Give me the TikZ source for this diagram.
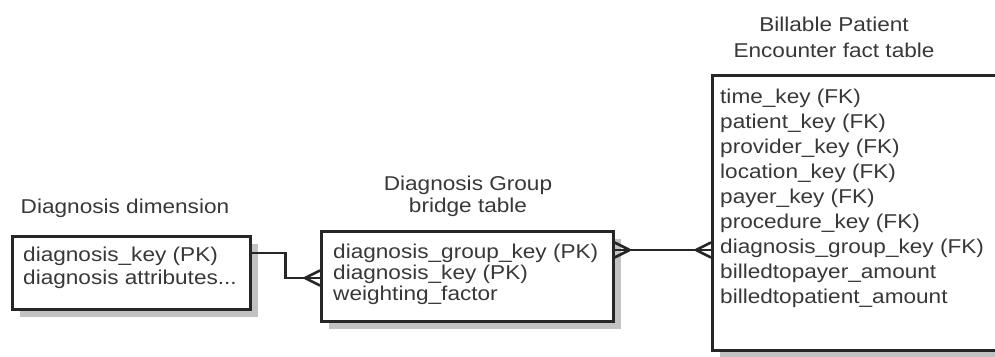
\documentclass[tikz,border=0pt]{standalone}
\usepackage{fontspec}
\setmainfont{Liberation Sans}[FakeStretch=1.13]
\usetikzlibrary{calc,shadows}
\definecolor{ink}{HTML}{262626}
\definecolor{txt}{HTML}{383838}
\definecolor{shade}{HTML}{C2C2C2}
\begin{document}
\begin{tikzpicture}[x=1pt,y=-1pt,
  tablebox/.style={draw=ink, line width=2.6pt, fill=white, inner sep=0pt, anchor=north west,
    drop shadow={shadow xshift=8pt, shadow yshift=-8pt, fill=shade, opacity=1}},
  % multi-line field lists sit on the baseline of their last line
  fields/.style={anchor=base west, inner sep=0pt, align=left, text=txt,
    font=\fontsize{20}{#1}\selectfont},
  caption/.style={align=center, inner sep=0pt, text=txt, font=\fontsize{20}{#1}\selectfont},
  conn/.style={draw=ink, line width=2.6pt},
  pics/crowfoot/.style={code={\draw[conn] (0,0) -- (15,-7.5) (0,0) -- (15,7.5);}}
]
\clip (0,0) rectangle (995,356);
\fill[white] (0,0) rectangle (995,356);

% dimension table
\node[caption=26] (dimtitle) at (125,208) {Diagnosis dimension};
\node[tablebox, minimum width=238pt, minimum height=73pt] (dimbox) at (11,235) {};
\node[fields=23] (dimfields) at ($(dimbox.north west)+(12,49)$)
  {diagnosis\_key (PK)\\diagnosis attributes...};

% bridge table
\node[caption=22] (brtitle) at (468,196) {Diagnosis Group\\bridge table};
\node[tablebox, minimum width=292pt, minimum height=90pt] (brbox) at (320,230) {};
\node[fields=21] (brfields) at ($(brbox.north west)+(13,70)$)
  {diagnosis\_group\_key (PK)\\diagnosis\_key (PK)\\weighting\_factor};

% fact table
\node[caption=26] (facttitle) at (834,37) {Billable Patient\\Encounter fact table};
\node[tablebox, minimum width=300pt, minimum height=275pt] (factbox) at (711,74) {};
\node[fields=25] (factfields) at ($(factbox.north west)+(9,229)$)
  {time\_key (FK)\\patient\_key (FK)\\provider\_key (FK)\\location\_key (FK)\\payer\_key (FK)\\procedure\_key (FK)\\diagnosis\_group\_key (FK)\\billedtopayer\_amount\\billedtopatient\_amount};

% dimension -> bridge
\draw[conn] ($(dimbox.north east)+(0,18)$) -- ++(34,0) |- ($(brbox.north west)+(0,48)$);
\pic at ($(brbox.north west)+(-15,48)$) {crowfoot};

% bridge <-> fact
\draw[conn] ($(brbox.north east)+(0,20)$) -- ($(factbox.north west)+(0,176)$);
\pic[rotate=180] at ($(brbox.north east)+(15,20)$) {crowfoot};
\pic at ($(factbox.north west)+(-15,176)$) {crowfoot};
\end{tikzpicture}
\end{document}
